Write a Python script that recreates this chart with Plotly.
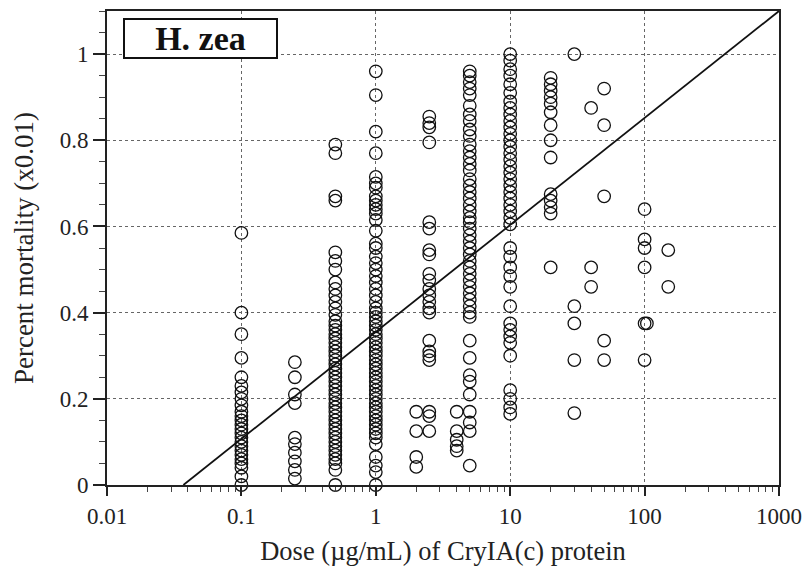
import plotly.graph_objects as go

# ---- data (dose in ug/mL, mortality fraction) ----
y_d01 = [0.585, 0.40, 0.35, 0.295, 0.25, 0.23, 0.215, 0.20, 0.185, 0.17, 0.16, 0.15, 0.14, 0.13,
         0.12, 0.11, 0.10, 0.09, 0.08, 0.07, 0.06, 0.05, 0.04, 0.02, 0.0]
y_d025 = [0.285, 0.25, 0.21, 0.19, 0.11, 0.095, 0.075, 0.055, 0.035, 0.015]
y_d05 = [0.79, 0.77, 0.67, 0.66, 0.54, 0.52, 0.50, 0.47, 0.455, 0.44, 0.425, 0.41, 0.395, 0.38,
         0.37, 0.36, 0.35, 0.34, 0.33, 0.32, 0.31, 0.30, 0.29, 0.28, 0.27, 0.26, 0.25, 0.24, 0.23,
         0.22, 0.21, 0.20, 0.19, 0.18, 0.17, 0.16, 0.15, 0.14, 0.13, 0.12, 0.11, 0.10, 0.09, 0.08,
         0.07, 0.06, 0.05, 0.035, 0.0]
y_d1 = [0.96, 0.905, 0.82, 0.77, 0.715, 0.70, 0.69, 0.67, 0.66, 0.65, 0.64, 0.63, 0.615, 0.59,
        0.56, 0.55, 0.53, 0.515, 0.50, 0.485, 0.47, 0.455, 0.44, 0.425, 0.41, 0.40, 0.39, 0.38,
        0.37, 0.36, 0.35, 0.34, 0.33, 0.32, 0.31, 0.30, 0.29, 0.28, 0.27, 0.26, 0.25, 0.24, 0.23,
        0.22, 0.21, 0.20, 0.19, 0.18, 0.17, 0.16, 0.15, 0.14, 0.13, 0.12, 0.11, 0.095, 0.065,
        0.045, 0.03, 0.0]
y_d2 = [0.17, 0.125, 0.065, 0.042]
y_d25 = [0.855, 0.84, 0.83, 0.795, 0.61, 0.595, 0.545, 0.535, 0.49, 0.475, 0.455, 0.44, 0.425,
         0.41, 0.40, 0.335, 0.31, 0.30, 0.29, 0.17, 0.16, 0.125]
y_d4 = [0.17, 0.125, 0.105, 0.09, 0.08]
y_d5 = [0.96, 0.95, 0.935, 0.92, 0.905, 0.88, 0.86, 0.845, 0.825, 0.81, 0.79, 0.775, 0.76, 0.745,
        0.73, 0.71, 0.695, 0.68, 0.665, 0.65, 0.635, 0.62, 0.61, 0.595, 0.58, 0.565, 0.55, 0.535,
        0.52, 0.505, 0.49, 0.475, 0.46, 0.445, 0.43, 0.415, 0.40, 0.39, 0.335, 0.295, 0.255, 0.24,
        0.21, 0.17, 0.145, 0.125, 0.045]
y_d10 = [1.0, 0.985, 0.965, 0.95, 0.93, 0.91, 0.89, 0.875, 0.86, 0.845, 0.83, 0.815, 0.80, 0.785,
         0.77, 0.755, 0.74, 0.725, 0.71, 0.695, 0.68, 0.665, 0.65, 0.635, 0.62, 0.605, 0.55, 0.53,
         0.505, 0.485, 0.46, 0.415, 0.375, 0.36, 0.345, 0.33, 0.30, 0.22, 0.20, 0.18, 0.165]
y_d20 = [0.945, 0.93, 0.915, 0.90, 0.885, 0.865, 0.835, 0.80, 0.76, 0.675, 0.66, 0.645, 0.63, 0.505]
y_d30 = [1.0, 0.415, 0.375, 0.29, 0.167]
y_d40 = [0.875, 0.505, 0.46]
y_d50 = [0.92, 0.835, 0.67, 0.335, 0.29]
y_d100 = [0.64, 0.57, 0.55, 0.505, 0.375, 0.29]
y_d104 = [0.375]
y_d150 = [0.545, 0.46]

doses = [0.1, 0.25, 0.5, 1, 2, 2.5, 4, 5, 10, 20, 30, 40, 50, 100, 104, 150]
groups = [y_d01, y_d025, y_d05, y_d1, y_d2, y_d25, y_d4, y_d5, y_d10, y_d20, y_d30, y_d40,
          y_d50, y_d100, y_d104, y_d150]

# fitted line endpoints
line_x = [0.037, 1000]
line_y = [0.0, 1.1]

x_ticks = [0.01, 0.1, 1, 10, 100, 1000]
x_ticklabels = ["0.01", "0.1", "1", "10", "100", "1000"]
y_ticks = [0, 0.2, 0.4, 0.6, 0.8, 1.0]
y_ticklabels = ["0", "0.2", "0.4", "0.6", "0.8", "1"]

xs, ys = [], []
for d, g in zip(doses, groups):
    xs += [d] * len(g)
    ys += g

minor_x = [m * 10 ** e for e in range(-2, 3) for m in range(2, 10)]
minor_y = [i * 0.05 for i in range(0, 23)]

FONT = "Liberation Serif"

fig = go.Figure()
fig.add_trace(go.Scatter(x=xs, y=ys, mode="markers",
                         marker=dict(symbol="circle-open", size=12.5, color="#111",
                                     line=dict(width=1.3, color="#111")),
                         showlegend=False, cliponaxis=False))
fig.add_trace(go.Scatter(x=line_x, y=line_y, mode="lines",
                         line=dict(color="#111", width=1.8), showlegend=False))

fig.update_layout(
    width=804, height=572,
    margin=dict(l=107, r=25, t=11, b=87),
    paper_bgcolor="white", plot_bgcolor="white",
    font=dict(family=FONT, size=23, color="#222"),
    xaxis=dict(type="log", range=[-2, 3], tickmode="array", tickvals=x_ticks,
               ticktext=x_ticklabels, ticks="outside", ticklen=9, tickwidth=1.5,
               tickcolor="#222", showline=True, linewidth=2, linecolor="#222", mirror=True,
               showgrid=True, gridcolor="#666", griddash="dot", gridwidth=1,
               zeroline=False, automargin=False,
               minor=dict(tickmode="array", tickvals=minor_x, ticks="outside", ticklen=5,
                          tickwidth=1, tickcolor="#444", showgrid=False),
               title=dict(text="Dose (µg/mL) of CryIA(c) protein",
                          font=dict(size=26.5, family=FONT, color="#222"), standoff=14)),
    yaxis=dict(range=[0, 1.1], tickmode="array", tickvals=y_ticks, ticktext=y_ticklabels,
               ticks="outside", ticklen=12, tickwidth=1.5, tickcolor="#222",
               showline=True, linewidth=2, linecolor="#222", mirror=True,
               showgrid=True, gridcolor="#666", griddash="dot", gridwidth=1,
               zeroline=False, automargin=False,
               minor=dict(tickmode="array", tickvals=minor_y, ticks="outside", ticklen=6,
                          tickwidth=1, tickcolor="#444", showgrid=False),
               title=dict(text="Percent mortality (x0.01)",
                          font=dict(size=27, family=FONT, color="#222"), standoff=18)),
    annotations=[dict(text="<b>H. zea</b>", xref="paper", yref="paper",
                      x=0.024, y=0.985, xanchor="left", yanchor="top", showarrow=False,
                      font=dict(size=34, family=FONT, color="#111"),
                      bordercolor="#111", borderwidth=2, borderpad=0, bgcolor="white",
                      width=151, height=37)],
)

fig.write_html("out.html")
